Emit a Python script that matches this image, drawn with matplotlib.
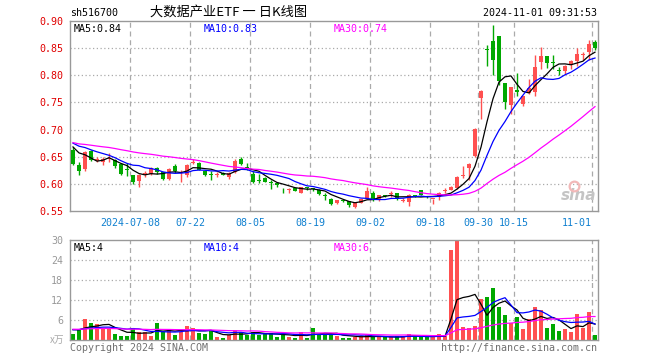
import numpy as np
import pandas as pd
import matplotlib
matplotlib.use("Agg")
import matplotlib.pyplot as plt

W, H = 660, 360

# daily bars 2024-06-24 .. 2024-11-01 (88 sessions)
open_ = [0.663, 0.635, 0.628, 0.660, 0.643, 0.640, 0.645, 0.644, 0.636, 0.626,
         0.616, 0.605, 0.619, 0.619, 0.629, 0.621, 0.609, 0.632, 0.620, 0.616,
         0.638, 0.639, 0.624, 0.618, 0.616, 0.620, 0.613, 0.622, 0.646, 0.631,
         0.619, 0.607, 0.611, 0.603, 0.602, 0.589, 0.588, 0.592, 0.584, 0.593,
         0.591, 0.589, 0.578, 0.573, 0.564, 0.569, 0.568, 0.558, 0.565, 0.573,
         0.584, 0.570, 0.578, 0.581, 0.583, 0.569, 0.567, 0.578, 0.588, 0.577,
         0.572, 0.576, 0.587, 0.589, 0.592, 0.614, 0.629, 0.651, 0.759, 0.848,
         0.864, 0.872, 0.785, 0.745, 0.773, 0.747, 0.768, 0.770, 0.825, 0.835,
         0.823, 0.809, 0.808, 0.820, 0.826, 0.838, 0.843, 0.861]
high = [0.667, 0.641, 0.661, 0.662, 0.650, 0.650, 0.656, 0.646, 0.638, 0.638,
        0.617, 0.618, 0.623, 0.631, 0.631, 0.622, 0.630, 0.637, 0.625, 0.637,
        0.645, 0.640, 0.626, 0.624, 0.622, 0.621, 0.621, 0.645, 0.650, 0.638,
        0.624, 0.619, 0.612, 0.607, 0.603, 0.592, 0.593, 0.593, 0.595, 0.595,
        0.593, 0.590, 0.583, 0.574, 0.571, 0.571, 0.569, 0.566, 0.573, 0.595,
        0.586, 0.580, 0.580, 0.587, 0.584, 0.574, 0.581, 0.580, 0.589, 0.578,
        0.572, 0.585, 0.592, 0.596, 0.614, 0.632, 0.638, 0.702, 0.772, 0.856,
        0.893, 0.872, 0.785, 0.779, 0.805, 0.762, 0.793, 0.837, 0.853, 0.835,
        0.837, 0.816, 0.819, 0.829, 0.850, 0.843, 0.865, 0.865]
low = [0.635, 0.617, 0.623, 0.643, 0.640, 0.634, 0.641, 0.630, 0.617, 0.614,
       0.599, 0.595, 0.613, 0.617, 0.619, 0.608, 0.607, 0.620, 0.604, 0.612,
       0.636, 0.625, 0.615, 0.607, 0.612, 0.616, 0.609, 0.620, 0.634, 0.625,
       0.601, 0.601, 0.603, 0.590, 0.595, 0.584, 0.583, 0.586, 0.583, 0.589,
       0.587, 0.580, 0.571, 0.561, 0.563, 0.566, 0.558, 0.556, 0.564, 0.572,
       0.569, 0.569, 0.575, 0.576, 0.571, 0.567, 0.559, 0.576, 0.579, 0.574,
       0.563, 0.571, 0.583, 0.588, 0.590, 0.610, 0.607, 0.650, 0.719, 0.818,
       0.801, 0.782, 0.737, 0.729, 0.762, 0.744, 0.765, 0.762, 0.811, 0.814,
       0.811, 0.800, 0.803, 0.811, 0.818, 0.829, 0.829, 0.846]
close = [0.637, 0.624, 0.659, 0.644, 0.645, 0.646, 0.647, 0.632, 0.618, 0.625,
         0.604, 0.616, 0.620, 0.629, 0.621, 0.609, 0.628, 0.624, 0.622, 0.635,
         0.640, 0.626, 0.617, 0.617, 0.618, 0.617, 0.620, 0.642, 0.636, 0.629,
         0.603, 0.606, 0.604, 0.602, 0.598, 0.588, 0.590, 0.587, 0.594, 0.592,
         0.590, 0.581, 0.577, 0.562, 0.570, 0.568, 0.561, 0.565, 0.572, 0.587,
         0.570, 0.579, 0.577, 0.582, 0.572, 0.571, 0.579, 0.577, 0.580, 0.576,
         0.572, 0.584, 0.588, 0.595, 0.613, 0.616, 0.637, 0.701, 0.771, 0.847,
         0.828, 0.790, 0.750, 0.779, 0.770, 0.762, 0.777, 0.816, 0.835, 0.823,
         0.822, 0.808, 0.817, 0.827, 0.839, 0.839, 0.858, 0.850]
volume = [1.8, 3.2, 6.3, 5.0, 4.7, 3.7, 3.7, 1.8, 1.2, 1.2,
          3.5, 2.3, 2.3, 1.2, 5.0, 2.5, 3.2, 1.5, 2.3, 4.2,
          3.7, 2.0, 1.8, 2.7, 1.0, 0.7, 1.5, 3.0, 2.5, 1.5,
          2.5, 1.5, 1.7, 2.2, 1.0, 1.8, 1.0, 0.7, 2.5, 0.7,
          3.6, 1.5, 1.8, 2.0, 1.2, 0.7, 0.7, 1.0, 1.2, 1.5,
          0.8, 0.8, 0.8, 0.8, 1.2, 1.2, 1.8, 1.2, 0.8, 0.8,
          0.8, 1.8, 1.2, 27.0, 29.7, 4.0, 3.5, 4.2, 12.3, 13.0,
          15.7, 10.0, 7.5, 5.0, 6.8, 3.3, 6.3, 10.0, 9.0, 3.7,
          4.8, 2.8, 3.3, 2.5, 7.8, 3.7, 8.5, 1.5]

# 29 sessions before the window, only needed to start the moving averages
hist_close = [0.695, 0.690, 0.686, 0.692, 0.688, 0.684, 0.689, 0.683, 0.681,
              0.672, 0.668, 0.662, 0.665, 0.670, 0.664, 0.660, 0.666, 0.669,
              0.671, 0.675, 0.680, 0.684, 0.686, 0.682, 0.678, 0.679, 0.676,
              0.674, 0.674]
hist_vol = [3.5, 2.8, 4.1, 3.0, 2.6, 3.9, 3.2, 2.9, 4.4, 3.1, 2.7, 3.6, 3.3,
            2.5, 3.8, 3.4, 2.9, 3.1, 4.0, 3.2, 2.8, 3.5, 3.0, 3.3, 2.6, 3.6,
            3.4, 3.3, 3.5]

tick_idx = [10, 20, 30, 40, 50, 60, 68, 74, 87]
tick_lbl = ["2024-07-08", "07-22", "08-05", "08-19", "09-02", "09-18",
            "09-30", "10-15", "11-01"]
price_ticks = [0.55, 0.60, 0.65, 0.70, 0.75, 0.80, 0.85, 0.90]
vol_ticks = [6, 12, 18, 24, 30]

RED, GREEN = "#ff5050", "#00a800"
GRID = "#aaaaaa"
MA_COL = {5: "black", 10: "#0000ff", 30: "#ff00ff"}
MONO = "DejaVu Sans Mono"
CJK = ["Noto Sans CJK SC", "DejaVu Sans"]

n = len(close)
x = np.arange(n) + 0.5
o, h, l, c = map(np.array, (open_, high, low, close))
v = np.array(volume)
cols = np.where(c >= o, RED, GREEN)

pc = pd.Series(hist_close + close)
pv = pd.Series(hist_vol + volume)
nh = len(hist_close)

fig = plt.figure(figsize=(W / 100, H / 100), dpi=100)
fig.patch.set_facecolor("white")


def box(top, bottom):
    return [70 / W, 1 - bottom / H, 528 / W, (bottom - top) / H]


ax = fig.add_axes(box(21, 211))
axv = fig.add_axes(box(240, 340))

for a in (ax, axv):
    a.set_xlim(0, n)
    for s in a.spines.values():
        s.set_color("#999999")
        s.set_linewidth(1)
    for t in tick_idx:
        a.axvline(t, color=GRID, lw=0.9, ls=(0, (4, 3)), zorder=0)

# price panel
ax.set_ylim(0.55, 0.90)
for p in price_ticks[1:-1]:
    ax.axhline(p, color=GRID, lw=0.9, ls=(0, (1, 2)), zorder=0)
ax.vlines(x, l, h, colors=cols, lw=1, zorder=2)
ax.bar(x, np.maximum(np.abs(c - o), 0.0016), bottom=np.minimum(o, c),
       width=0.78, color=cols, lw=0, zorder=3)
for k in (5, 10, 30):
    ma = pc.rolling(k).mean().values[nh:]
    ax.plot(x, ma, color=MA_COL[k], lw=0.9, zorder=4)

ax.set_yticks(price_ticks)
ax.set_yticklabels(["%.2f" % p for p in price_ticks], family=MONO,
                   fontsize=7.2, color="#e00000")
ax.set_xticks(tick_idx)
ax.set_xticklabels(tick_lbl, family=MONO, fontsize=7.2, color="#1080d0")
ax.get_xticklabels()[-1].set_horizontalalignment("right")
ax.tick_params(length=0, pad=5)

ax.text(0.006, 0.985, "MA5:0.84", transform=ax.transAxes, family=MONO,
        fontsize=7.2, color="black", va="top")
ax.text(0.253, 0.985, "MA10:0.83", transform=ax.transAxes, family=MONO,
        fontsize=7.2, color="#0000ff", va="top")
ax.text(0.50, 0.985, "MA30:0.74", transform=ax.transAxes, family=MONO,
        fontsize=7.2, color="#ff00ff", va="top")
# watermark
ax.text(0.996, 0.04, "sina", transform=ax.transAxes, fontsize=11,
        fontweight="bold", style="italic", color="#c4c4c4", ha="right",
        va="bottom", zorder=1)
ax.plot([0.955], [0.13], transform=ax.transAxes, marker="o", ms=7,
        mfc="none", mec="#f2b8b8", mew=1.6, zorder=1)

# volume panel
axv.set_ylim(0, 30)
for t in vol_ticks[:-1]:
    axv.axhline(t, color=GRID, lw=0.9, ls=(0, (1, 2)), zorder=0)
axv.bar(x, v, width=0.8, color=cols, lw=0, zorder=2)
for k in (5, 10, 30):
    ma = pv.rolling(k).mean().values[nh:]
    axv.plot(x, ma, color=MA_COL[k], lw=0.9, zorder=3)
axv.set_yticks(vol_ticks)
axv.set_yticklabels([str(t) for t in vol_ticks], family=MONO, fontsize=7.2,
                    color="#999999")
axv.set_xticks([])
axv.tick_params(length=0, pad=5)
axv.text(-0.01, 0.0, "x万", transform=axv.transAxes, fontsize=7,
         family=CJK, color="#aaaaaa", ha="right", va="center")

axv.text(0.006, 0.97, "MA5:4", transform=axv.transAxes, family=MONO,
         fontsize=7.2, color="black", va="top")
axv.text(0.253, 0.97, "MA10:4", transform=axv.transAxes, family=MONO,
         fontsize=7.2, color="#0000ff", va="top")
axv.text(0.50, 0.97, "MA30:6", transform=axv.transAxes, family=MONO,
         fontsize=7.2, color="#ff00ff", va="top")

# header / footer
fig.text(70 / W, 1 - 13 / H, "sh516700", family=MONO, fontsize=7.2,
         va="center")
fig.text(229 / W, 1 - 12 / H, "大数据产业ETF 一 日K线图", family=CJK,
         fontsize=9.5, ha="center", va="center")
fig.text(597 / W, 1 - 13 / H, "2024-11-01 09:31:53", family=MONO,
         fontsize=7.2, ha="right", va="center")
fig.text(70 / W, 1 - 348 / H, "Copyright 2024 SINA.COM", family=MONO,
         fontsize=7.2, color="#707070", va="center")
fig.text(597 / W, 1 - 348 / H, "http://finance.sina.com.cn", family=MONO,
         fontsize=7.2, color="#707070", ha="right", va="center")

fig.savefig("out.png", dpi=100, facecolor="white")
